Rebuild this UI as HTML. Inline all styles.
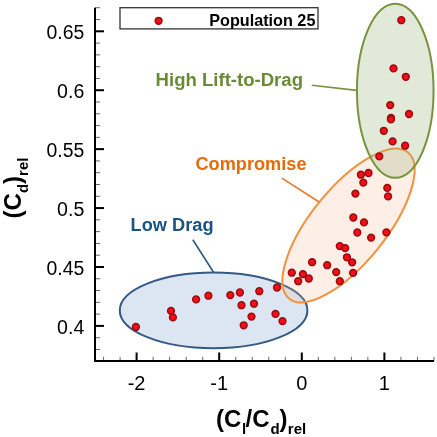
<!DOCTYPE html>
<html><head><meta charset="utf-8"><style>
html,body{margin:0;padding:0;background:#fff;width:437px;height:437px;overflow:hidden}
svg{display:block;will-change:transform;font-family:"Liberation Sans",sans-serif}
</style></head><body>
<svg width="437" height="437" viewBox="0 0 437 437">
<defs><radialGradient id="dot" cx="0.5" cy="0.5" r="0.5"><stop offset="0" stop-color="#ff0a14"/><stop offset="0.6" stop-color="#f01018"/><stop offset="1" stop-color="#c80c14"/></radialGradient></defs>
<rect width="437" height="437" fill="#fff"/>
<ellipse cx="213.6" cy="310.4" rx="93.8" ry="37.8" fill="#4f81bd" fill-opacity="0.2" stroke="#345a84" stroke-width="2"/>
<ellipse cx="0" cy="0" rx="94.2" ry="37.4" transform="translate(348.5 225.5) rotate(-51)" fill="rgb(245,175,130)" fill-opacity="0.2" stroke="#f0923f" stroke-width="2"/>
<ellipse cx="395.25" cy="90.8" rx="38.3" ry="87" fill="rgb(157,178,119)" fill-opacity="0.286" stroke="#77933c" stroke-width="2"/>
<line x1="311.8" y1="85.2" x2="356.6" y2="90.4" stroke="#77933c" stroke-width="1.6"/>
<line x1="281.9" y1="178.2" x2="319.1" y2="202" stroke="#e8782a" stroke-width="1.6"/>
<line x1="192.8" y1="239.8" x2="213.4" y2="272" stroke="#2d5a82" stroke-width="1.6"/>
<line x1="95" y1="361.25" x2="100" y2="361.25" stroke="#666" stroke-width="1"/>
<line x1="95" y1="349.47" x2="100" y2="349.47" stroke="#666" stroke-width="1"/>
<line x1="95" y1="337.68" x2="100" y2="337.68" stroke="#666" stroke-width="1"/>
<line x1="95" y1="325.90" x2="100" y2="325.90" stroke="#666" stroke-width="1"/>
<line x1="95" y1="314.12" x2="100" y2="314.12" stroke="#666" stroke-width="1"/>
<line x1="95" y1="302.33" x2="100" y2="302.33" stroke="#666" stroke-width="1"/>
<line x1="95" y1="290.55" x2="100" y2="290.55" stroke="#666" stroke-width="1"/>
<line x1="95" y1="278.76" x2="100" y2="278.76" stroke="#666" stroke-width="1"/>
<line x1="95" y1="266.98" x2="100" y2="266.98" stroke="#666" stroke-width="1"/>
<line x1="95" y1="255.20" x2="100" y2="255.20" stroke="#666" stroke-width="1"/>
<line x1="95" y1="243.41" x2="100" y2="243.41" stroke="#666" stroke-width="1"/>
<line x1="95" y1="231.63" x2="100" y2="231.63" stroke="#666" stroke-width="1"/>
<line x1="95" y1="219.84" x2="100" y2="219.84" stroke="#666" stroke-width="1"/>
<line x1="95" y1="208.06" x2="100" y2="208.06" stroke="#666" stroke-width="1"/>
<line x1="95" y1="196.28" x2="100" y2="196.28" stroke="#666" stroke-width="1"/>
<line x1="95" y1="184.49" x2="100" y2="184.49" stroke="#666" stroke-width="1"/>
<line x1="95" y1="172.71" x2="100" y2="172.71" stroke="#666" stroke-width="1"/>
<line x1="95" y1="160.92" x2="100" y2="160.92" stroke="#666" stroke-width="1"/>
<line x1="95" y1="149.14" x2="100" y2="149.14" stroke="#666" stroke-width="1"/>
<line x1="95" y1="137.36" x2="100" y2="137.36" stroke="#666" stroke-width="1"/>
<line x1="95" y1="125.57" x2="100" y2="125.57" stroke="#666" stroke-width="1"/>
<line x1="95" y1="113.79" x2="100" y2="113.79" stroke="#666" stroke-width="1"/>
<line x1="95" y1="102.00" x2="100" y2="102.00" stroke="#666" stroke-width="1"/>
<line x1="95" y1="90.22" x2="100" y2="90.22" stroke="#666" stroke-width="1"/>
<line x1="95" y1="78.44" x2="100" y2="78.44" stroke="#666" stroke-width="1"/>
<line x1="95" y1="66.65" x2="100" y2="66.65" stroke="#666" stroke-width="1"/>
<line x1="95" y1="54.87" x2="100" y2="54.87" stroke="#666" stroke-width="1"/>
<line x1="95" y1="43.08" x2="100" y2="43.08" stroke="#666" stroke-width="1"/>
<line x1="95" y1="31.30" x2="100" y2="31.30" stroke="#666" stroke-width="1"/>
<line x1="95" y1="19.52" x2="100" y2="19.52" stroke="#666" stroke-width="1"/>
<line x1="95" y1="7.73" x2="100" y2="7.73" stroke="#666" stroke-width="1"/>
<line x1="95" y1="325.90" x2="104" y2="325.90" stroke="#000" stroke-width="2"/>
<line x1="95" y1="266.98" x2="104" y2="266.98" stroke="#000" stroke-width="2"/>
<line x1="95" y1="208.06" x2="104" y2="208.06" stroke="#000" stroke-width="2"/>
<line x1="95" y1="149.14" x2="104" y2="149.14" stroke="#000" stroke-width="2"/>
<line x1="95" y1="90.22" x2="104" y2="90.22" stroke="#000" stroke-width="2"/>
<line x1="95" y1="31.30" x2="104" y2="31.30" stroke="#000" stroke-width="2"/>
<line x1="103.56" y1="361" x2="103.56" y2="356.8" stroke="#666" stroke-width="1"/>
<line x1="120.08" y1="361" x2="120.08" y2="356.8" stroke="#666" stroke-width="1"/>
<line x1="136.60" y1="361" x2="136.60" y2="356.8" stroke="#666" stroke-width="1"/>
<line x1="153.12" y1="361" x2="153.12" y2="356.8" stroke="#666" stroke-width="1"/>
<line x1="169.64" y1="361" x2="169.64" y2="356.8" stroke="#666" stroke-width="1"/>
<line x1="186.16" y1="361" x2="186.16" y2="356.8" stroke="#666" stroke-width="1"/>
<line x1="202.68" y1="361" x2="202.68" y2="356.8" stroke="#666" stroke-width="1"/>
<line x1="219.20" y1="361" x2="219.20" y2="356.8" stroke="#666" stroke-width="1"/>
<line x1="235.72" y1="361" x2="235.72" y2="356.8" stroke="#666" stroke-width="1"/>
<line x1="252.24" y1="361" x2="252.24" y2="356.8" stroke="#666" stroke-width="1"/>
<line x1="268.76" y1="361" x2="268.76" y2="356.8" stroke="#666" stroke-width="1"/>
<line x1="285.28" y1="361" x2="285.28" y2="356.8" stroke="#666" stroke-width="1"/>
<line x1="301.80" y1="361" x2="301.80" y2="356.8" stroke="#666" stroke-width="1"/>
<line x1="318.32" y1="361" x2="318.32" y2="356.8" stroke="#666" stroke-width="1"/>
<line x1="334.84" y1="361" x2="334.84" y2="356.8" stroke="#666" stroke-width="1"/>
<line x1="351.36" y1="361" x2="351.36" y2="356.8" stroke="#666" stroke-width="1"/>
<line x1="367.88" y1="361" x2="367.88" y2="356.8" stroke="#666" stroke-width="1"/>
<line x1="384.40" y1="361" x2="384.40" y2="356.8" stroke="#666" stroke-width="1"/>
<line x1="400.92" y1="361" x2="400.92" y2="356.8" stroke="#666" stroke-width="1"/>
<line x1="417.44" y1="361" x2="417.44" y2="356.8" stroke="#666" stroke-width="1"/>
<line x1="433.96" y1="361" x2="433.96" y2="356.8" stroke="#666" stroke-width="1"/>
<line x1="136.60" y1="361" x2="136.60" y2="352.5" stroke="#000" stroke-width="2"/>
<line x1="219.20" y1="361" x2="219.20" y2="352.5" stroke="#000" stroke-width="2"/>
<line x1="301.80" y1="361" x2="301.80" y2="352.5" stroke="#000" stroke-width="2"/>
<line x1="384.40" y1="361" x2="384.40" y2="352.5" stroke="#000" stroke-width="2"/>
<path d="M95 7.73 V361 H433.96" fill="none" stroke="#000" stroke-width="2"/>
<circle cx="401.3" cy="20.2" r="3.4" fill="url(#dot)" stroke="#9c0c10" stroke-width="1.5"/>
<circle cx="393.5" cy="68.4" r="3.4" fill="url(#dot)" stroke="#9c0c10" stroke-width="1.5"/>
<circle cx="405.8" cy="76.8" r="3.4" fill="url(#dot)" stroke="#9c0c10" stroke-width="1.5"/>
<circle cx="390.2" cy="105.1" r="3.4" fill="url(#dot)" stroke="#9c0c10" stroke-width="1.5"/>
<circle cx="409.0" cy="114.0" r="3.4" fill="url(#dot)" stroke="#9c0c10" stroke-width="1.5"/>
<circle cx="391.0" cy="118.0" r="3.4" fill="url(#dot)" stroke="#9c0c10" stroke-width="1.5"/>
<circle cx="390.9" cy="119.4" r="3.4" fill="url(#dot)" stroke="#9c0c10" stroke-width="1.5"/>
<circle cx="383.8" cy="130.8" r="3.4" fill="url(#dot)" stroke="#9c0c10" stroke-width="1.5"/>
<circle cx="392.6" cy="141.4" r="3.4" fill="url(#dot)" stroke="#9c0c10" stroke-width="1.5"/>
<circle cx="405.1" cy="145.7" r="3.4" fill="url(#dot)" stroke="#9c0c10" stroke-width="1.5"/>
<circle cx="379.3" cy="156.4" r="3.4" fill="url(#dot)" stroke="#9c0c10" stroke-width="1.5"/>
<circle cx="368.5" cy="173.0" r="3.4" fill="url(#dot)" stroke="#9c0c10" stroke-width="1.5"/>
<circle cx="360.9" cy="174.7" r="3.4" fill="url(#dot)" stroke="#9c0c10" stroke-width="1.5"/>
<circle cx="363.3" cy="182.6" r="3.4" fill="url(#dot)" stroke="#9c0c10" stroke-width="1.5"/>
<circle cx="387.3" cy="187.9" r="3.4" fill="url(#dot)" stroke="#9c0c10" stroke-width="1.5"/>
<circle cx="388.1" cy="196.4" r="3.4" fill="url(#dot)" stroke="#9c0c10" stroke-width="1.5"/>
<circle cx="355.4" cy="193.6" r="3.4" fill="url(#dot)" stroke="#9c0c10" stroke-width="1.5"/>
<circle cx="353.3" cy="217.5" r="3.4" fill="url(#dot)" stroke="#9c0c10" stroke-width="1.5"/>
<circle cx="364.0" cy="222.4" r="3.4" fill="url(#dot)" stroke="#9c0c10" stroke-width="1.5"/>
<circle cx="357.3" cy="232.5" r="3.4" fill="url(#dot)" stroke="#9c0c10" stroke-width="1.5"/>
<circle cx="371.1" cy="237.6" r="3.4" fill="url(#dot)" stroke="#9c0c10" stroke-width="1.5"/>
<circle cx="386.4" cy="232.4" r="3.4" fill="url(#dot)" stroke="#9c0c10" stroke-width="1.5"/>
<circle cx="339.8" cy="246.1" r="3.4" fill="url(#dot)" stroke="#9c0c10" stroke-width="1.5"/>
<circle cx="345.2" cy="248.1" r="3.4" fill="url(#dot)" stroke="#9c0c10" stroke-width="1.5"/>
<circle cx="346.9" cy="257.3" r="3.4" fill="url(#dot)" stroke="#9c0c10" stroke-width="1.5"/>
<circle cx="352.1" cy="262.3" r="3.4" fill="url(#dot)" stroke="#9c0c10" stroke-width="1.5"/>
<circle cx="312.1" cy="262.2" r="3.4" fill="url(#dot)" stroke="#9c0c10" stroke-width="1.5"/>
<circle cx="327.2" cy="265.2" r="3.4" fill="url(#dot)" stroke="#9c0c10" stroke-width="1.5"/>
<circle cx="336.2" cy="272.1" r="3.4" fill="url(#dot)" stroke="#9c0c10" stroke-width="1.5"/>
<circle cx="353.1" cy="272.9" r="3.4" fill="url(#dot)" stroke="#9c0c10" stroke-width="1.5"/>
<circle cx="291.8" cy="272.7" r="3.4" fill="url(#dot)" stroke="#9c0c10" stroke-width="1.5"/>
<circle cx="302.9" cy="274.2" r="3.4" fill="url(#dot)" stroke="#9c0c10" stroke-width="1.5"/>
<circle cx="308.8" cy="278.5" r="3.4" fill="url(#dot)" stroke="#9c0c10" stroke-width="1.5"/>
<circle cx="298.2" cy="281.2" r="3.4" fill="url(#dot)" stroke="#9c0c10" stroke-width="1.5"/>
<circle cx="339.8" cy="281.2" r="3.4" fill="url(#dot)" stroke="#9c0c10" stroke-width="1.5"/>
<circle cx="277.0" cy="287.5" r="3.4" fill="url(#dot)" stroke="#9c0c10" stroke-width="1.5"/>
<circle cx="135.9" cy="327.0" r="3.4" fill="url(#dot)" stroke="#9c0c10" stroke-width="1.5"/>
<circle cx="171.0" cy="310.9" r="3.4" fill="url(#dot)" stroke="#9c0c10" stroke-width="1.5"/>
<circle cx="172.9" cy="317.4" r="3.4" fill="url(#dot)" stroke="#9c0c10" stroke-width="1.5"/>
<circle cx="196.1" cy="299.4" r="3.4" fill="url(#dot)" stroke="#9c0c10" stroke-width="1.5"/>
<circle cx="208.4" cy="295.7" r="3.4" fill="url(#dot)" stroke="#9c0c10" stroke-width="1.5"/>
<circle cx="230.3" cy="295.1" r="3.4" fill="url(#dot)" stroke="#9c0c10" stroke-width="1.5"/>
<circle cx="239.9" cy="292.5" r="3.4" fill="url(#dot)" stroke="#9c0c10" stroke-width="1.5"/>
<circle cx="259.3" cy="291.2" r="3.4" fill="url(#dot)" stroke="#9c0c10" stroke-width="1.5"/>
<circle cx="241.5" cy="305.2" r="3.4" fill="url(#dot)" stroke="#9c0c10" stroke-width="1.5"/>
<circle cx="254.0" cy="303.7" r="3.4" fill="url(#dot)" stroke="#9c0c10" stroke-width="1.5"/>
<circle cx="251.5" cy="316.6" r="3.4" fill="url(#dot)" stroke="#9c0c10" stroke-width="1.5"/>
<circle cx="243.7" cy="325.3" r="3.4" fill="url(#dot)" stroke="#9c0c10" stroke-width="1.5"/>
<circle cx="275.5" cy="313.9" r="3.4" fill="url(#dot)" stroke="#9c0c10" stroke-width="1.5"/>
<circle cx="282.5" cy="321.1" r="3.4" fill="url(#dot)" stroke="#9c0c10" stroke-width="1.5"/>
<rect x="120" y="7.7" width="198" height="21.2" fill="#fff" stroke="#333" stroke-width="1.3"/>
<circle cx="158.6" cy="20.8" r="3.4" fill="url(#dot)" stroke="#9c0c10" stroke-width="1.5"/>
<text x="315.4" y="25.7" text-anchor="end" font-family="Liberation Sans" font-weight="bold" font-size="16.2">Population 25</text>
<text x="46.55" y="39.10" font-family="Liberation Sans" font-size="20" textLength="37.75" lengthAdjust="spacingAndGlyphs">0.65</text>
<text x="57.10" y="98.02" font-family="Liberation Sans" font-size="20" textLength="27.2" lengthAdjust="spacingAndGlyphs">0.6</text>
<text x="46.55" y="156.94" font-family="Liberation Sans" font-size="20" textLength="37.75" lengthAdjust="spacingAndGlyphs">0.55</text>
<text x="57.10" y="215.86" font-family="Liberation Sans" font-size="20" textLength="27.2" lengthAdjust="spacingAndGlyphs">0.5</text>
<text x="46.55" y="274.78" font-family="Liberation Sans" font-size="20" textLength="37.75" lengthAdjust="spacingAndGlyphs">0.45</text>
<text x="57.10" y="333.70" font-family="Liberation Sans" font-size="20" textLength="27.2" lengthAdjust="spacingAndGlyphs">0.4</text>
<text x="136.60" y="389.5" text-anchor="middle" font-family="Liberation Sans" font-size="20">-2</text>
<text x="219.20" y="389.5" text-anchor="middle" font-family="Liberation Sans" font-size="20">-1</text>
<text x="301.80" y="389.5" text-anchor="middle" font-family="Liberation Sans" font-size="20">0</text>
<text x="384.40" y="389.5" text-anchor="middle" font-family="Liberation Sans" font-size="20">1</text>
<text x="261.1" y="427" text-anchor="middle" font-family="Liberation Sans" font-weight="bold" font-size="24">(C<tspan font-size="15" dy="7" dx="0.7">l</tspan><tspan dy="-7" dx="-0.7">/C</tspan><tspan font-size="15" dy="7" dx="1">d</tspan><tspan dy="-7" dx="-0.2">)</tspan><tspan font-size="15" dy="7" dx="0.4">rel</tspan></text>
<text transform="translate(21 188) rotate(-90)" x="0" y="0" text-anchor="middle" font-family="Liberation Sans" font-weight="bold" font-size="24">(C<tspan font-size="15" dy="7">d</tspan><tspan dy="-7">)</tspan><tspan font-size="15" dy="7">rel</tspan></text>
<text x="155.6" y="86.1" font-family="Liberation Sans" font-weight="bold" font-size="18" fill="#6a8b35" textLength="147.4" lengthAdjust="spacingAndGlyphs">High Lift-to-Drag</text>
<text x="195.5" y="169.6" font-family="Liberation Sans" font-weight="bold" font-size="18" fill="#e46c0a" textLength="111" lengthAdjust="spacingAndGlyphs">Compromise</text>
<text x="130.6" y="231.4" font-family="Liberation Sans" font-weight="bold" font-size="18" fill="#1a5282" textLength="83" lengthAdjust="spacingAndGlyphs">Low Drag</text>
</svg>
</body></html>
